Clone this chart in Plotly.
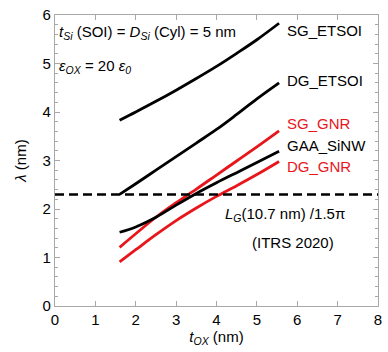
import plotly.graph_objects as go

tox = [1.6, 2.0, 2.5, 3.0, 3.5, 4.0, 4.5, 5.0, 5.55]
sg_etsoi = [3.83, 4.00, 4.22, 4.45, 4.69, 4.94, 5.21, 5.49, 5.83]
dg_etsoi = [2.30, 2.52, 2.80, 3.08, 3.36, 3.64, 3.95, 4.27, 4.60]
sg_gnr = [1.21, 1.49, 1.83, 2.13, 2.41, 2.70, 2.99, 3.28, 3.61]
gaa_sinw = [1.52, 1.63, 1.83, 2.08, 2.32, 2.54, 2.75, 2.96, 3.19]
dg_gnr = [0.91, 1.16, 1.47, 1.76, 2.02, 2.26, 2.48, 2.71, 2.98]
lg_x = [0, 8]
lg_y = [2.30, 2.30]

FONT = "Liberation Sans, Arial, sans-serif"
fig = go.Figure()

series = [
    (sg_etsoi, "black", "SG_ETSOI", 5.68),
    (dg_etsoi, "black", "DG_ETSOI", 4.65),
    (sg_gnr, "#e8161b", "SG_GNR", 3.76),
    (gaa_sinw, "black", "GAA_SiNW", 3.31),
    (dg_gnr, "#e8161b", "DG_GNR", 2.88),
]
for ys, col, name, ly in series:
    fig.add_trace(go.Scatter(x=tox, y=ys, mode="lines", line_shape="spline",
                             line=dict(color=col, width=2.8), showlegend=False))
    fig.add_annotation(x=5.7, y=ly, text=name, showarrow=False, xanchor="left",
                       yanchor="middle", font=dict(family=FONT, size=15, color=col))

fig.add_trace(go.Scatter(x=lg_x, y=lg_y, mode="lines",
                         line=dict(color="black", width=2.4, dash="9px,5px"),
                         showlegend=False))

fig.add_annotation(x=0.05, y=5.64, xanchor="left", yanchor="middle", showarrow=False,
                   text="<i>t</i><sub><i>Si</i></sub> (SOI) = <i>D</i><sub><i>Si</i></sub> (Cyl) = 5 nm",
                   font=dict(family=FONT, size=15, color="black"))
fig.add_annotation(x=0.05, y=4.94, xanchor="left", yanchor="middle", showarrow=False,
                   text="<i>ε</i><sub><i>OX</i></sub> = 20 <i>ε</i><sub><i>0</i></sub>",
                   font=dict(family=FONT, size=15, color="black"))
fig.add_annotation(x=5.7, y=1.88, xanchor="center", yanchor="middle", showarrow=False,
                   text="<i>L</i><sub><i>G</i></sub>(10.7 nm) /1.5π",
                   font=dict(family=FONT, size=15, color="black"))
fig.add_annotation(x=5.9, y=1.3, xanchor="center", yanchor="middle", showarrow=False,
                   text="(ITRS 2020)",
                   font=dict(family=FONT, size=15, color="black"))

axcol = "#a8a8a8"
fig.update_layout(
    width=388, height=352,
    margin=dict(l=55, r=6, t=13, b=46),
    plot_bgcolor="white", paper_bgcolor="white",
    font=dict(family=FONT, size=15, color="black"),
    xaxis=dict(range=[0, 8], dtick=1, showgrid=False, zeroline=False,
               showline=True, linecolor=axcol, linewidth=1.2, mirror="ticks",
               ticks="inside", ticklen=5, tickcolor=axcol,
               tickfont=dict(family=FONT, size=15),
               title=dict(text="<i>t</i><sub><i>OX</i></sub> (nm)", standoff=4,
                          font=dict(family=FONT, size=15))),
    yaxis=dict(range=[0, 6], dtick=1, showgrid=False, zeroline=False,
               showline=True, linecolor=axcol, linewidth=1.2, mirror="ticks",
               ticks="inside", ticklen=5, tickcolor=axcol,
               minor=dict(dtick=0.2, ticks="inside", ticklen=3, tickcolor=axcol),
               tickfont=dict(family=FONT, size=15),
               title=dict(text="<i>λ</i> (nm)", standoff=12,
                          font=dict(family=FONT, size=15))),
)

fig.write_html("out.html")
